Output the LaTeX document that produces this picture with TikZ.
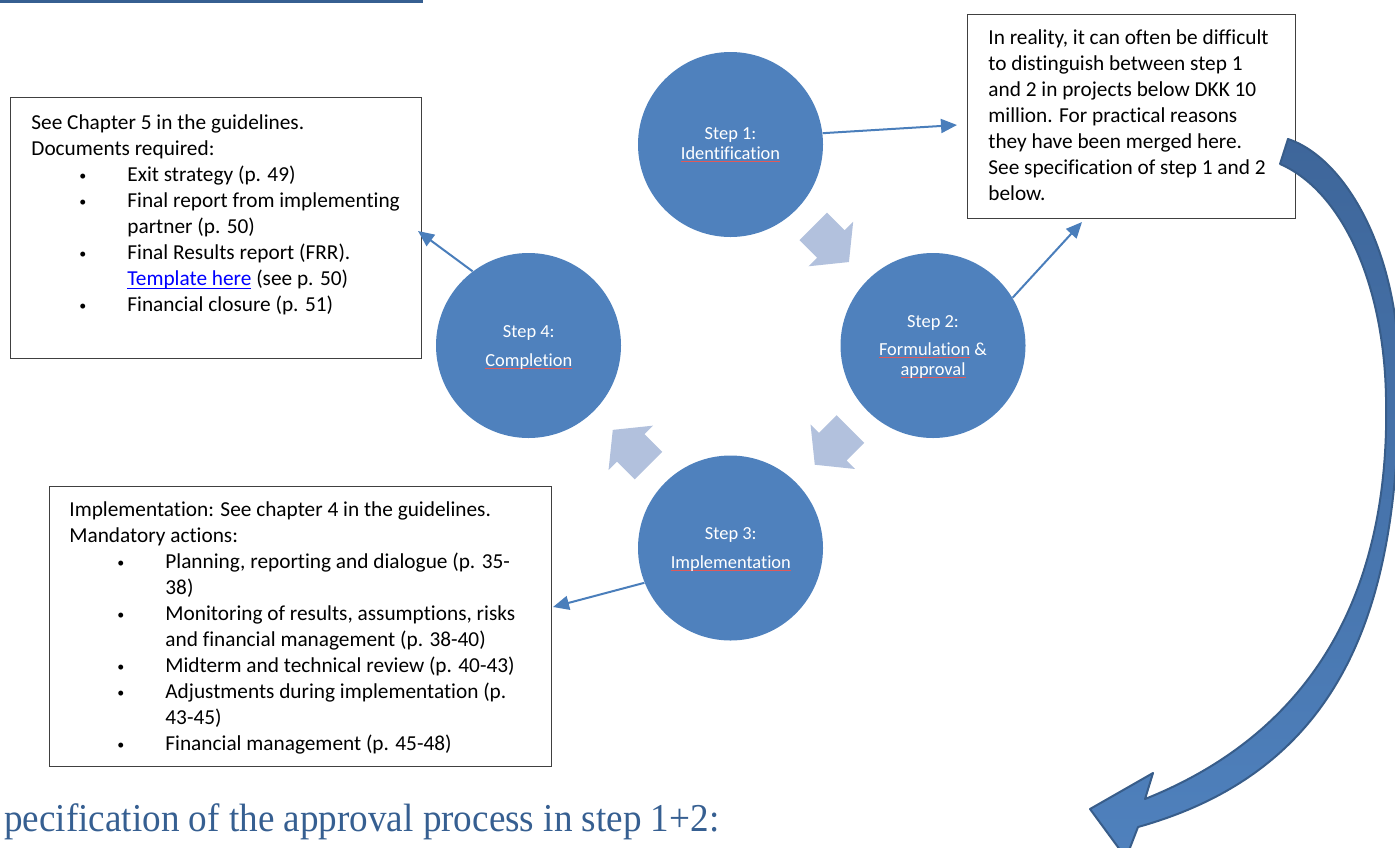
\documentclass[tikz,border=0pt]{standalone}
\usepackage{graphicx}
\usepackage{fontspec}
\setmainfont{Carlito}[Ligatures=CommonOff]
\newfontfamily\headfont{Liberation Serif}[Ligatures=CommonOff]
\usetikzlibrary{arrows.meta}
\definecolor{stepblue}{RGB}{79,129,189}
\definecolor{lightarrow}{RGB}{178,193,221}
\definecolor{connblue}{RGB}{74,126,187}
\definecolor{headblue}{RGB}{54,95,145}
\definecolor{bigdark}{RGB}{56,93,138}
\definecolor{bigtop}{RGB}{62,102,154}
\definecolor{spellred}{RGB}{222,90,90}
\definecolor{linkblue}{RGB}{0,0,255}
\newcommand{\spellul}[1]{\setbox0\hbox{#1}\rlap{\textcolor{spellred}{\rule[-1.3pt]{\wd0}{0.5pt}}}\box0\relax}
\newcommand{\ulink}[1]{\textcolor{linkblue}{\setbox0\hbox{#1}\rlap{\rule[-1.6pt]{\wd0}{0.6pt}}\box0\relax}}
\newcommand{\bul}{\hspace*{23pt}\makebox[25pt][l]{\hspace*{1pt}\raisebox{0.6pt}{\fontsize{7pt}{7pt}\selectfont •}}}
\newcommand{\cont}{\hspace*{48pt}}
\newcommand{\blockarrow}[2]{\fill[lightarrow, shift={#1}, rotate=#2] (-25,-19.5) -- (0,-19.5) -- (0,-31.5) -- (25.5,0) -- (0,31.5) -- (0,19.5) -- (-25,19.5) -- cycle;}
\begin{document}
\begin{tikzpicture}[x=0.5pt,y=-0.5pt,
  stepc/.style={circle, fill=stepblue, minimum size=92.5pt, inner sep=0pt},
  steptext/.style={text=white, font=\fontsize{9.2pt}{11pt}\selectfont, anchor=base, inner sep=0pt},
  box/.style={draw=black!75, line width=0.7pt, fill=white, anchor=north west, inner sep=0pt},
  boxtext/.style={anchor=base west, inner sep=0pt, font=\fontsize{10.65pt}{13.05pt}\selectfont},
  conn/.style={draw=connblue, line width=1pt, -{Triangle[length=8pt,width=7pt]}}]
\useasboundingbox (0,0) rectangle (1395,847);
\clip (0,0) rectangle (1395,847);

% top rule of a heading above
\draw[headblue, line width=1.5pt] (0,1.5) -- (423,1.5);

% boxes
\node[box, minimum width=164pt, minimum height=102pt] (trbox) at (967,14) {};
\node[box, minimum width=205.5pt, minimum height=130.5pt] (tlbox) at (10,97) {};
\node[box, minimum width=251pt, minimum height=140pt] (blbox) at (49,486) {};

\node[boxtext] (trtext) at (988,44) {\parbox[t]{160pt}{%
In reality, it can often be difficult\\
to distinguish between step 1\\
and 2 in projects below DKK 10\\
million. For practical reasons\\
they have been merged here.\\
See specification of step 1 and 2\\
below.}};

\node[boxtext] (tltext) at (31,129) {\parbox[t]{200pt}{%
See Chapter 5 in the guidelines.\\
Documents required:\\
\bul Exit strategy (p. 49)\\
\bul Final report from implementing\\
\cont partner (p. 50)\\
\bul Final Results report (FRR).\\
\cont \ulink{Template here} (see p. 50)\\
\bul Financial closure (p. 51)}};

\node[boxtext] (bltext) at (69,516) {\parbox[t]{245pt}{%
Implementation: See chapter 4 in the guidelines.\\
Mandatory actions:\\
\bul Planning, reporting and dialogue (p. 35-\\
\cont 38)\\
\bul Monitoring of results, assumptions, risks\\
\cont and financial management (p. 38-40)\\
\bul Midterm and technical review (p. 40-43)\\
\bul Adjustments during implementation (p.\\
\cont 43-45)\\
\bul Financial management (p. 45-48)}};

% circles
\node[stepc] (s1) at (730.5,144.5) {};
\node[stepc] (s2) at (933,345.5) {};
\node[stepc] (s3) at (730.5,548) {};
\node[stepc] (s4) at (528.5,345.5) {};

\node[steptext] (s1a) at (730.5,139.3) {Step 1:};
\node[steptext] (s1b) at (730.5,159.3) {\spellul{Identification}};
\node[steptext] (s2a) at (933,327.3) {Step 2:};
\node[steptext] (s2b) at (933,355) {\spellul{Formulation} \&};
\node[steptext] (s2c) at (933,375) {\spellul{approval}};
\node[steptext] (s3a) at (730.8,539.3) {Step 3:};
\node[steptext] (s3b) at (730.8,568.3) {\spellul{Implementation}};
\node[steptext] (s4a) at (528.8,337.3) {Step 4:};
\node[steptext] (s4b) at (528.8,366) {\spellul{Completion}};

% block arrows of the cycle
\blockarrow{(830.9,244)}{-45}
\blockarrow{(832.8,446.7)}{-135}
\blockarrow{(630.8,447.9)}{135}

% connectors
\coordinate (e1) at (957,125);
\coordinate (e2) at (1082,222);
\coordinate (e4) at (418,231);
\coordinate (e3) at (553,607);
\draw[conn] (s1.7) -- (e1);
\draw[conn] (s2.31.5) -- (e2);
\draw[conn] (s4.127) -- (e4);
\draw[conn] (s3.202.7) -- (e3);

% big curved arrow
\shade[top color=bigtop, bottom color=stepblue, draw=bigdark, line width=1pt, line join=round]
 (1288,139) .. controls (1345,158) and (1398,250) .. (1399,370)
 .. controls (1400,580) and (1360,765) .. (1138,827)
 -- (1126,858) -- (1090,809) -- (1153,773) -- (1145,799)
 .. controls (1330,725) and (1390,570) .. (1386,398)
 .. controls (1384,280) and (1340,190) .. (1280,164) -- cycle;

% heading
\node[anchor=base west, inner sep=0pt, text=headblue, font=\headfont\fontsize{19.75pt}{20pt}\selectfont] (head) at (4,831) {\scalebox{0.94}[1]{pecification of the approval process in step 1+2:}};
\end{tikzpicture}
\end{document}
